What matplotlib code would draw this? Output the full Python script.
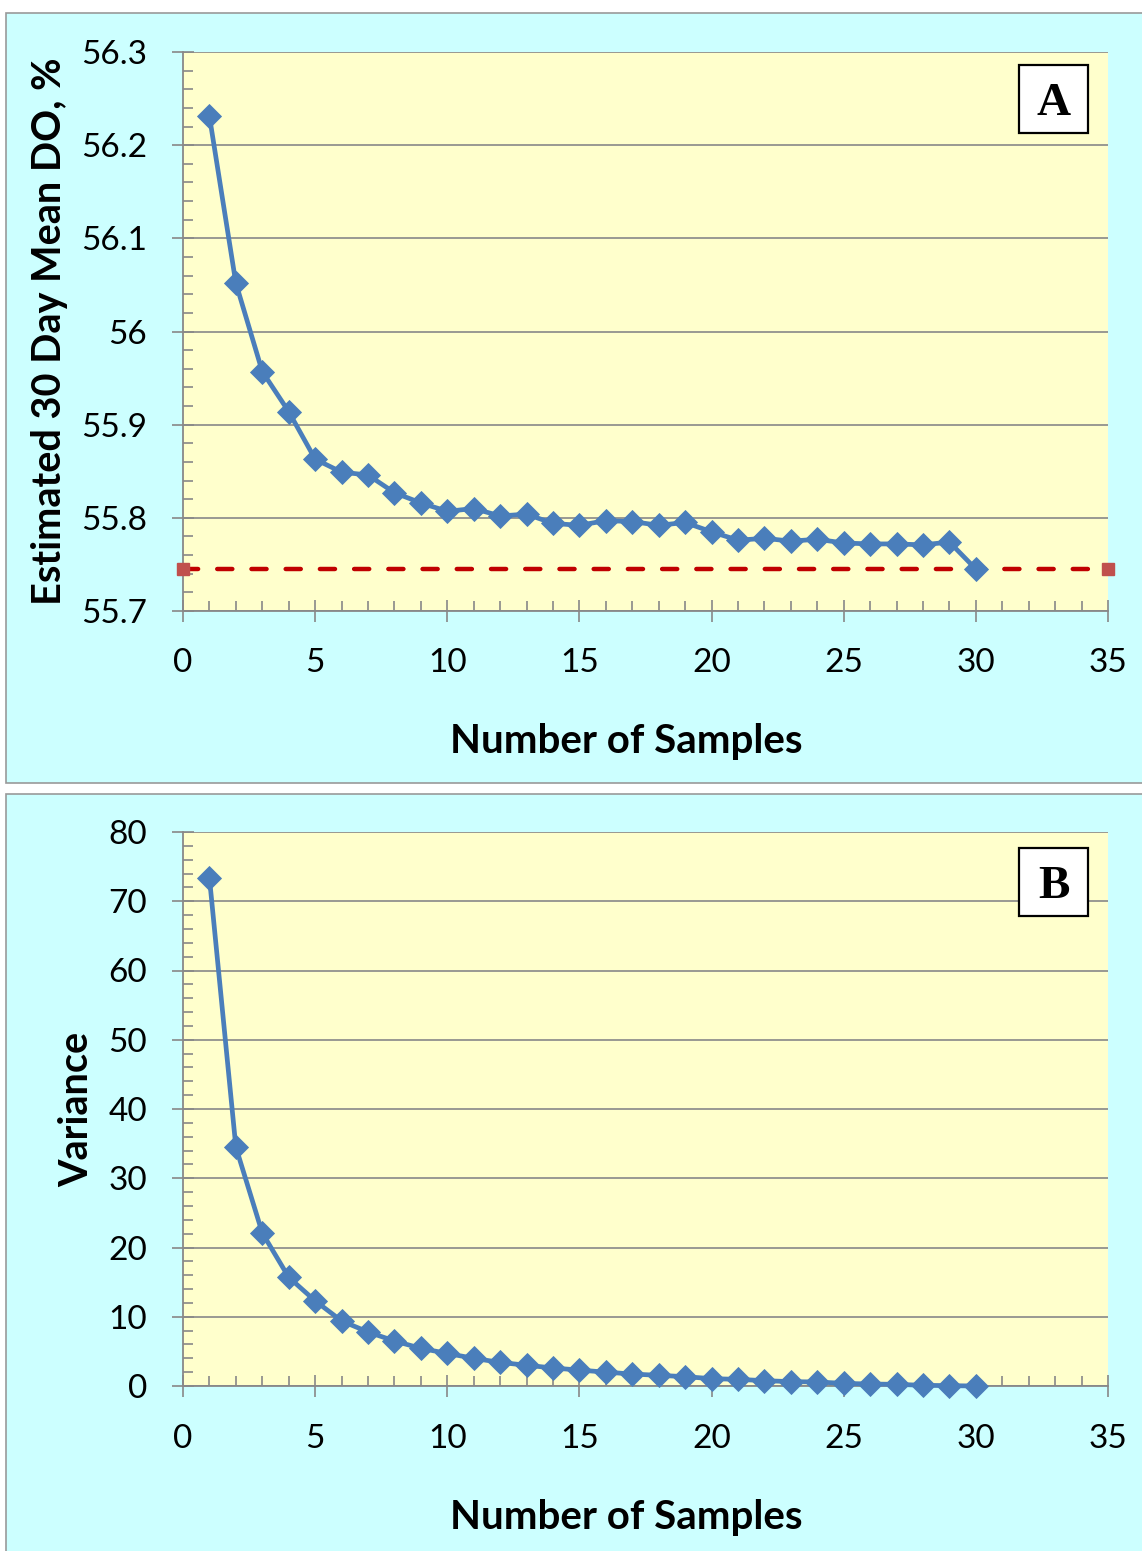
import matplotlib
matplotlib.use("Agg")
import matplotlib.pyplot as plt
from matplotlib.patches import Rectangle
from matplotlib.ticker import MultipleLocator

samples = list(range(1, 31))
mean_do = [56.231, 56.052, 55.957, 55.914, 55.863, 55.849, 55.846, 55.827, 55.816, 55.807,
           55.810, 55.802, 55.804, 55.794, 55.792, 55.797, 55.796, 55.792, 55.795, 55.785,
           55.776, 55.778, 55.775, 55.777, 55.773, 55.772, 55.772, 55.771, 55.774, 55.745]
true_mean_x = [0, 35]
true_mean_y = [55.745, 55.745]
variance = [73.4, 34.5, 22.1, 15.7, 12.3, 9.4, 7.8, 6.5, 5.44, 4.7,
            4.0, 3.4, 3.0, 2.6, 2.3, 2.0, 1.73, 1.54, 1.35, 1.06,
            0.96, 0.77, 0.63, 0.58, 0.38, 0.29, 0.24, 0.10, 0.05, 0.0]
yticks_A = [55.7, 55.8, 55.9, 56.0, 56.1, 56.2, 56.3]
yticklabels_A = ["55.7", "55.8", "55.9", "56", "56.1", "56.2", "56.3"]

W, H = 1142, 1551
fig = plt.figure(figsize=(W / 100, H / 100), dpi=100)
fig.patch.set_facecolor("white")

cyan = "#CCFFFF"
yellow = "#FFFFCC"
gray = "#888888"
blue = "#4A7EBB"

def fx(px):
    return px / W

def fy(py):
    return 1 - py / H

# panel backgrounds
fig.patches.append(Rectangle((fx(6), fy(783)), fx(1160) - fx(6), fy(13) - fy(783),
                             transform=fig.transFigure, facecolor=cyan, edgecolor="#999999",
                             linewidth=1.2, zorder=-5))
fig.patches.append(Rectangle((fx(6), fy(1560)), fx(1160) - fx(6), fy(794) - fy(1560),
                             transform=fig.transFigure, facecolor=cyan, edgecolor="#999999",
                             linewidth=1.2, zorder=-5))

tick_font = "Lato"

def style_axes(ax, ymin, ymax, ymaj, ymin_step, ylabel, label_letter, ylab_x, xlab_y, box_y):
    ax.set_facecolor(yellow)
    ax.set_xlim(0, 35)
    ax.set_ylim(ymin, ymax)
    ax.xaxis.set_major_locator(MultipleLocator(5))
    ax.xaxis.set_minor_locator(MultipleLocator(1))
    ax.yaxis.set_major_locator(MultipleLocator(ymaj))
    ax.yaxis.set_minor_locator(MultipleLocator(ymin_step))
    for s in ["top", "right"]:
        ax.spines[s].set_visible(False)
    for s in ["left", "bottom"]:
        ax.spines[s].set_color(gray)
        ax.spines[s].set_linewidth(1.3)
    ax.grid(True, axis="y", which="major", color=gray, linewidth=1.2, zorder=1)
    ax.set_axisbelow(True)
    ax.tick_params(axis="both", which="major", direction="inout", length=16, width=1.2,
                   color=gray, labelsize=24)
    ax.tick_params(axis="x", which="major", pad=19)
    ax.tick_params(axis="y", which="major", pad=18)
    ax.tick_params(axis="both", which="minor", direction="in", length=7.5, width=1.2, color=gray)
    for lab in ax.get_xticklabels() + ax.get_yticklabels():
        lab.set_fontfamily(tick_font)
    ax.set_xlabel("Number of Samples", fontsize=29, fontweight="bold", family="Lato")
    ax.xaxis.set_label_coords(0.479, xlab_y)
    ax.xaxis.label.set_va("center")
    ax.set_ylabel(ylabel, fontsize=28.5, fontweight="bold", family="Lato")
    ax.yaxis.set_label_coords(ylab_x, 0.5)
    ax.yaxis.label.set_va("center")
    bx, bw = 0.904, 0.0746
    bh = 68 / (ax.bbox.height)
    ax.add_patch(Rectangle((bx, box_y), bw, bh, transform=ax.transAxes, facecolor="white",
                           edgecolor="black", linewidth=1.6, zorder=6, clip_on=False))
    ax.text(bx + bw / 2, box_y + bh / 2, label_letter, transform=ax.transAxes, ha="center",
            va="center_baseline", fontsize=34, fontweight="bold", family="Liberation Serif", zorder=7)

line_kw = dict(color=blue, linewidth=3.4, marker="D", markersize=12.5, markeredgewidth=0.6,
               zorder=4, clip_on=False)

axA = fig.add_axes([fx(183), fy(611), fx(1108) - fx(183), fy(52) - fy(611)])
axA.plot(samples, mean_do, **line_kw)
axA.plot(true_mean_x, true_mean_y, color="#C00000", linewidth=3.2, linestyle=(0, (3.4, 4.3)),
         dash_capstyle="round", zorder=3, clip_on=False)
axA.plot(true_mean_x, true_mean_y, linestyle="none", marker="s", markersize=8,
         color="#C0504D", zorder=3, clip_on=False)
style_axes(axA, 55.7, 56.3, 0.1, 0.02, "Estimated 30 Day Mean DO, %", "A",
           ylab_x=-0.1438, xlab_y=-0.2343, box_y=0.855)
axA.set_yticks(yticks_A)
axA.set_yticklabels(yticklabels_A, family=tick_font)

axB = fig.add_axes([fx(183), fy(1386), fx(1108) - fx(183), fy(832) - fy(1386)])
axB.plot(samples, variance, **line_kw)
style_axes(axB, 0, 80, 10, 2, "Variance", "B", ylab_x=-0.1146, xlab_y=-0.238, box_y=0.848)

fig.savefig("out.png", dpi=100, facecolor=fig.get_facecolor())
